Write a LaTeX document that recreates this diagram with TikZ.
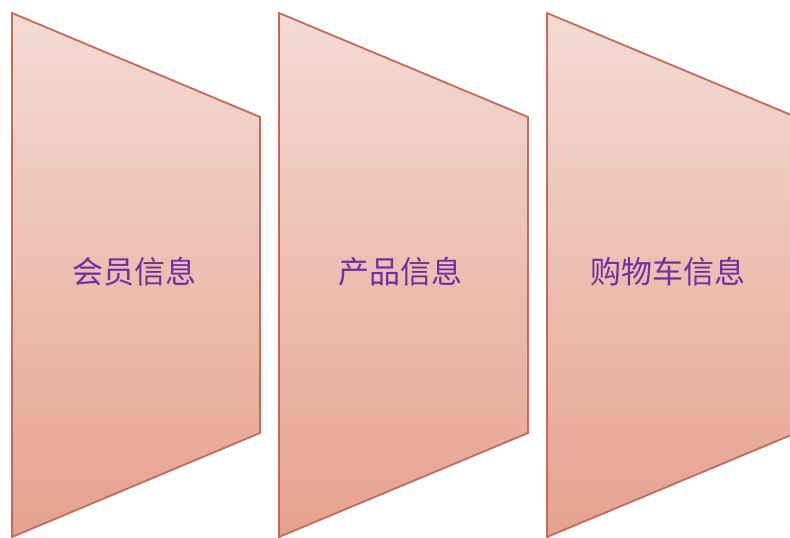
\documentclass[tikz,border=0pt]{standalone}
\usepackage{fontspec}
\newfontfamily\cjk{Noto Sans CJK SC}
\definecolor{topc}{RGB}{244,219,211}
\definecolor{botc}{RGB}{230,161,143}
\definecolor{edgec}{RGB}{196,106,90}
\definecolor{txtc}{RGB}{112,48,160}
\tikzset{
  panel/.style={draw=edgec, line width=1.8pt, top color=topc, bottom color=botc, line join=miter},
  lbl/.style={text=txtc, font=\cjk\fontsize{31}{33}\selectfont, inner sep=0pt}
}
\begin{document}
\begin{tikzpicture}[x=1pt,y=-1pt]
\useasboundingbox (0,0) rectangle (790,538);
\clip (0,0) rectangle (790,538);
\path[panel] (12,13) -- (260,117) -- (260,433) -- (12,537) -- cycle;
\path[panel] (279,13) -- (528,117) -- (528,433) -- (279,537) -- cycle;
\path[panel] (547,13) -- (796,117) -- (796,433) -- (547,537) -- cycle;
\node[lbl] (a) at (134,272) {会员信息};
\node[lbl] (b) at (400,272) {产品信息};
\node[lbl] (c) at (668,272) {购物车信息};
\end{tikzpicture}
\end{document}
